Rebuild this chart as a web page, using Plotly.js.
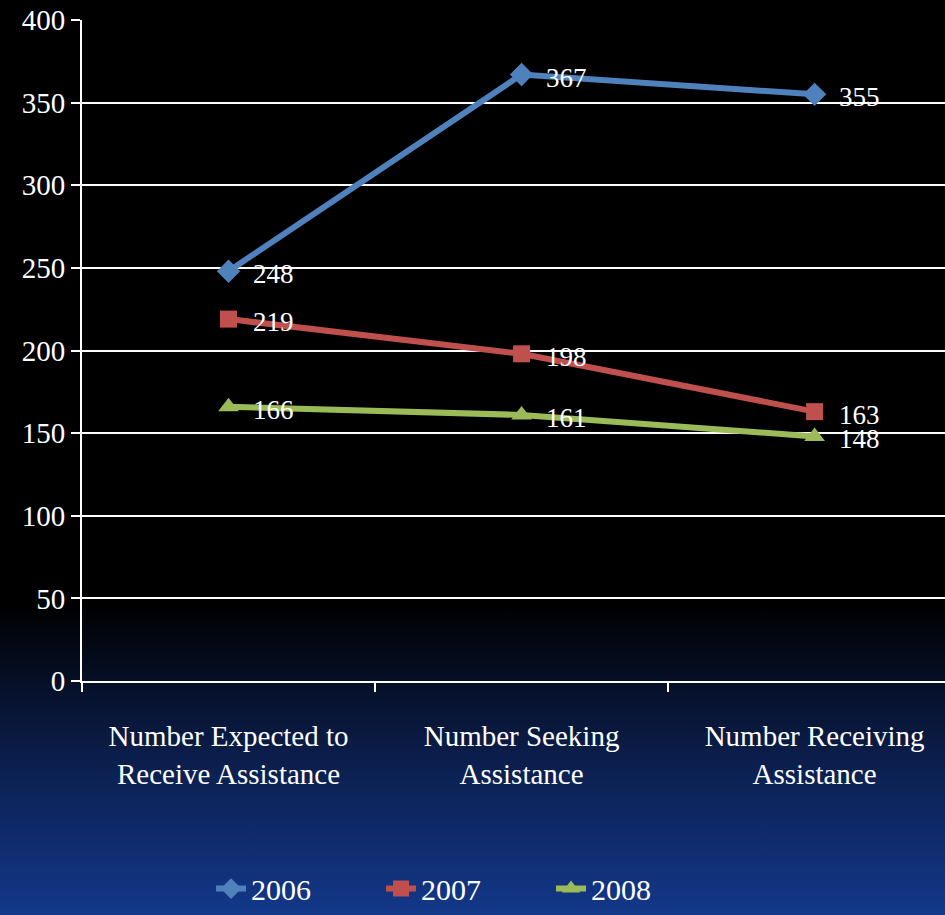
<!DOCTYPE html>
<html>
<head>
<meta charset="utf-8">
<script src="https://cdn.plot.ly/plotly-3.0.1.min.js"></script>
<style>
html, body { margin:0; padding:0; width:945px; height:915px; overflow:hidden;
  background: linear-gradient(to bottom, #000000 0%, #000000 66%, #07122e 76%, #0d2358 86%, #13388a 100%); }
#chart { position:absolute; left:0; top:0; width:945px; height:915px; }
#fontwarm { position:absolute; left:-2000px; top:0; font-family:'Liberation Serif'; font-size:29px; color:#fff; }
</style>
</head>
<body>
<div id="fontwarm">Number 0123456789</div>
<div id="chart"></div>
<script>
const categories = ["Number Expected to<br>Receive Assistance", "Number Seeking<br>Assistance", "Number Receiving<br>Assistance"];
const seriesNames = ["2006", "2007", "2008"];
const values2006 = [248, 367, 355];
const values2007 = [219, 198, 163];
const values2008 = [166, 161, 148];
const yTicks = [0, 50, 100, 150, 200, 250, 300, 350, 400];

const colors = ["#4F81BD", "#C0504D", "#9BBB59"];
const symbols = ["diamond", "square", "triangle-up"];
const sizes = [18, 17, 18];
const allValues = [values2006, values2007, values2008];

const font = "Liberation Serif";

const traces = allValues.map((vals, i) => ({
  type: "scatter",
  mode: "lines+markers",
  name: seriesNames[i],
  x: categories,
  y: vals,
  line: {color: colors[i], width: 6},
  marker: {symbol: symbols[i], size: sizes[i], color: colors[i]},
  cliponaxis: false
}));

const annotations = [];
allValues.forEach((vals, i) => {
  vals.forEach((v, j) => {
    annotations.push({
      x: categories[j], y: v, xref: "x", yref: "y",
      text: String(v), showarrow: false,
      xanchor: "left", yanchor: "middle",
      xshift: 22, yshift: -3,
      font: {family: font, size: 27, color: "#ffffff"}
    });
  });
});

const layout = {
  width: 945, height: 915,
  margin: {l: 82, r: 0, t: 20, b: 227},
  paper_bgcolor: "rgba(0,0,0,0)",
  plot_bgcolor: "rgba(0,0,0,0)",
  font: {family: font, color: "#ffffff", size: 28},
  showlegend: true,
  annotations: annotations,
  legend: {
    orientation: "h", x: 0.445, xanchor: "center", y: -0.314, yanchor: "middle",
    font: {family: font, size: 30, color: "#ffffff"},
    entrywidth: 125, bgcolor: "rgba(0,0,0,0)"
  },
  xaxis: {
    type: "category",
    range: [-0.5, 2.445],
    tickson: "boundaries",
    ticks: "outside", ticklen: 9, tickwidth: 2, tickcolor: "#ffffff",
    ticklabelstandoff: 28,
    showline: true, linecolor: "#ffffff", linewidth: 2,
    showgrid: false, zeroline: false,
    tickfont: {family: font, size: 29, color: "#ffffff"},
    fixedrange: true
  },
  yaxis: {
    range: [0, 400],
    tickvals: yTicks,
    ticktext: yTicks.map(String),
    ticks: "outside", ticklen: 9, tickwidth: 2, tickcolor: "#ffffff",
    showline: true, linecolor: "#ffffff", linewidth: 2,
    showgrid: true, gridcolor: "#ffffff", gridwidth: 2,
    zeroline: false,
    tickfont: {family: font, size: 29, color: "#ffffff"},
    fixedrange: true
  }
};

Plotly.newPlot("chart", traces, layout, {displayModeBar: false, staticPlot: true});
</script>
</body>
</html>
